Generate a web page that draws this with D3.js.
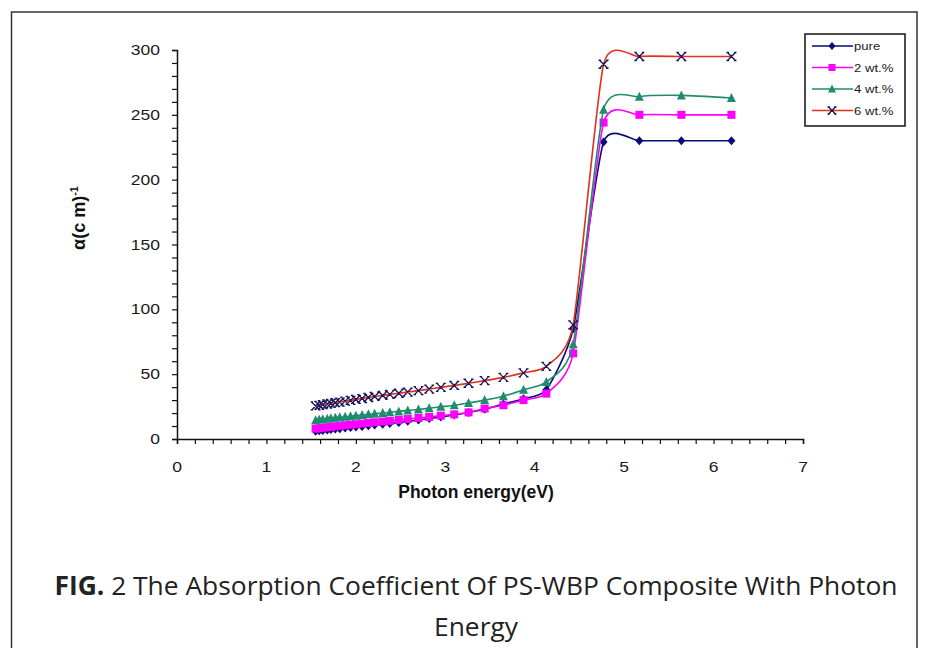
<!DOCTYPE html>
<html><head><meta charset="utf-8">
<script src="https://cdn.jsdelivr.net/npm/d3@7"></script>
<style>html,body{margin:0;padding:0;background:#fff;}svg{display:block;}</style>
</head><body>
<script>
// Photon energy (eV)
const energy = [1.55,1.59,1.63,1.68,1.72,1.77,1.82,1.88,1.94,2.00,2.07,2.14,2.21,2.30,2.38,2.48,2.58,2.70,2.82,2.95,3.10,3.26,3.44,3.65,3.875,4.13,4.43,4.77,5.17,5.64,6.20];
const pure = [6,6.3,6.6,7,7.3,7.7,8,8.4,8.8,9.2,9.7,10.2,10.8,11.4,12,12.8,13.6,14.6,15.8,17,18.5,20.5,23,27,31,38,85,229,230,230,230];
const wt2  = [8,8.3,8.7,9,9.4,9.8,10.2,10.6,11,11.4,11.9,12.4,12.9,13.5,14,14.7,15.4,16.2,17,18,19,20.5,23.5,26,30,35,66,244,250,250,250];
const wt4  = [14.5,15,15.3,15.7,16,16.4,16.8,17.2,17.6,18,18.5,19,19.5,20,20.6,21.3,22,22.8,23.7,24.8,26,27.8,30,33,38,44,73,254,264,265,263];
const wt6  = [25.5,26,26.5,27,27.5,28,28.5,29.2,29.8,30.5,31.2,32,32.8,33.6,34.4,35.3,36.2,37.3,38.5,39.8,41.3,43,45,47.5,51,56,88,289,295,295,295];
const seriesNames = ["pure","2 wt.%","4 wt.%","6 wt.%"];
const xTicks = [0,1,2,3,4,5,6,7];
const yTicks = [0,50,100,150,200,250,300];

const W = 929, H = 648;
const svg = d3.select("body").append("svg").attr("width", W).attr("height", H);
svg.append("rect").attr("width", W).attr("height", H).attr("fill", "#fff");
svg.append("rect").attr("x", 11.5).attr("y", 12).attr("width", 905.5).attr("height", 660)
  .attr("fill", "none").attr("stroke", "#333").attr("stroke-width", 1.5);

const x = d3.scaleLinear().domain([0, 7]).range([177, 803]);
const y = d3.scaleLinear().domain([0, 300]).range([439, 50]);

const fontAx = "'Liberation Sans', Arial, sans-serif";
const SX = 1.25; // horizontal stretch of the chart's text

function stretchedText(g, tx, ty, txt, size, anchor, weight) {
  return g.append("text").attr("transform", `translate(${tx},${ty}) scale(${SX},1)`)
    .attr("text-anchor", anchor).attr("font-family", fontAx).attr("font-size", size)
    .attr("font-weight", weight || "normal").attr("fill", "#1a1a1a").text(txt);
}

// axes
const gx = svg.append("g").attr("transform", `translate(0,${y(0)})`);
gx.call(d3.axisBottom(x).tickValues(d3.range(0, 7.01, 0.2)).tickSize(5).tickFormat(""));
const gy = svg.append("g").attr("transform", `translate(${x(0)},0)`);
gy.call(d3.axisLeft(y).tickValues(d3.range(0, 301, 10)).tickSize(5).tickFormat(""));
[gx, gy].forEach(g => {
  g.selectAll("path.domain").attr("stroke", "#111").attr("stroke-width", 1.5);
  g.selectAll(".tick line").attr("stroke", "#111").attr("stroke-width", 1.2);
});
const lab = svg.append("g");
xTicks.forEach(d => stretchedText(lab, x(d), 472, d, 14, "middle"));
yTicks.forEach(d => stretchedText(lab, 160, y(d) + 5, d, 14, "end"));

// axis titles
svg.append("text").attr("x", 476).attr("y", 498).attr("text-anchor", "middle")
  .attr("font-family", fontAx).attr("font-size", 17.5).attr("font-weight", "bold").attr("fill", "#111")
  .text("Photon energy(eV)");
const yt = svg.append("text").attr("transform", "translate(85,218) rotate(-90)").attr("text-anchor", "middle")
  .attr("font-family", fontAx).attr("font-size", 18).attr("font-weight", "bold").attr("fill", "#111");
yt.append("tspan").text("α(c m)");
yt.append("tspan").attr("dy", -7).attr("font-size", 11).text("-1");

// series
const colors = ["#0a0a78", "#ff00ff", "#1f8c6e", "#e0301e"];
const markerColors = ["#0a0a78", "#ff00ff", "#1f8c6e", "#14145a"];
const data = [pure, wt2, wt4, wt6];
const line = d3.line().x(d => x(d[0])).y(d => y(d[1])).curve(d3.curveCardinal.tension(0.4));

data.forEach((vals, i) => {
  const pts = energy.map((e, j) => [e, vals[j]]);
  const g = svg.append("g");
  g.append("path").attr("d", line(pts)).attr("fill", "none").attr("stroke", colors[i]).attr("stroke-width", 1.6);
  pts.forEach(p => drawMarker(g, x(p[0]), y(p[1]), i, 4));
});

function drawMarker(g, cx, cy, i, s) {
  const c = markerColors[i];
  if (i === 0) {
    g.append("path").attr("d", `M${cx},${cy - s - 0.5}L${cx + s},${cy}L${cx},${cy + s + 0.5}L${cx - s},${cy}Z`).attr("fill", c);
  } else if (i === 1) {
    g.append("rect").attr("x", cx - s).attr("y", cy - s).attr("width", 2 * s).attr("height", 2 * s).attr("fill", c);
  } else if (i === 2) {
    g.append("path").attr("d", `M${cx},${cy - s - 1}L${cx + s + 0.5},${cy + s}L${cx - s - 0.5},${cy + s}Z`).attr("fill", c);
  } else {
    g.append("path").attr("d", `M${cx - s},${cy - s}L${cx + s},${cy + s}M${cx - s},${cy + s}L${cx + s},${cy - s}M${cx - s - 1},${cy - s}h2.5M${cx + s - 1.5},${cy - s}h2.5M${cx - s - 1},${cy + s}h2.5M${cx + s - 1.5},${cy + s}h2.5`)
      .attr("stroke", c).attr("stroke-width", 1.3).attr("fill", "none");
  }
}

// legend
const lg = svg.append("g");
lg.append("rect").attr("x", 805).attr("y", 34).attr("width", 100).attr("height", 92)
  .attr("fill", "#fff").attr("stroke", "#111").attr("stroke-width", 1.5);
seriesNames.forEach((n, i) => {
  const ly = 46 + i * 21.5;
  lg.append("line").attr("x1", 812).attr("x2", 853).attr("y1", ly).attr("y2", ly)
    .attr("stroke", colors[i]).attr("stroke-width", 1.6);
  drawMarker(lg, 832, ly, i, 3.5);
  stretchedText(lg, 854, ly + 4, n, 10.5, "start");
});

// caption
const capFont = "'Open Sans', Lato, sans-serif";
const cap1 = svg.append("text").attr("x", 476).attr("y", 595).attr("text-anchor", "middle")
  .attr("font-family", capFont).attr("font-size", 21).attr("fill", "#222");
cap1.append("tspan").attr("font-weight", "bold").text("FIG.");
cap1.append("tspan").text(" 2 The Absorption Coefficient Of PS-WBP Composite With Photon");
const targetW = 843;
const cw = cap1.node().getComputedTextLength();
const fs = 21 * targetW / cw;
cap1.attr("font-size", fs);
svg.append("text").attr("x", 476).attr("y", 636).attr("text-anchor", "middle")
  .attr("font-family", capFont).attr("font-size", fs).attr("fill", "#222").text("Energy");
</script>
</body></html>
